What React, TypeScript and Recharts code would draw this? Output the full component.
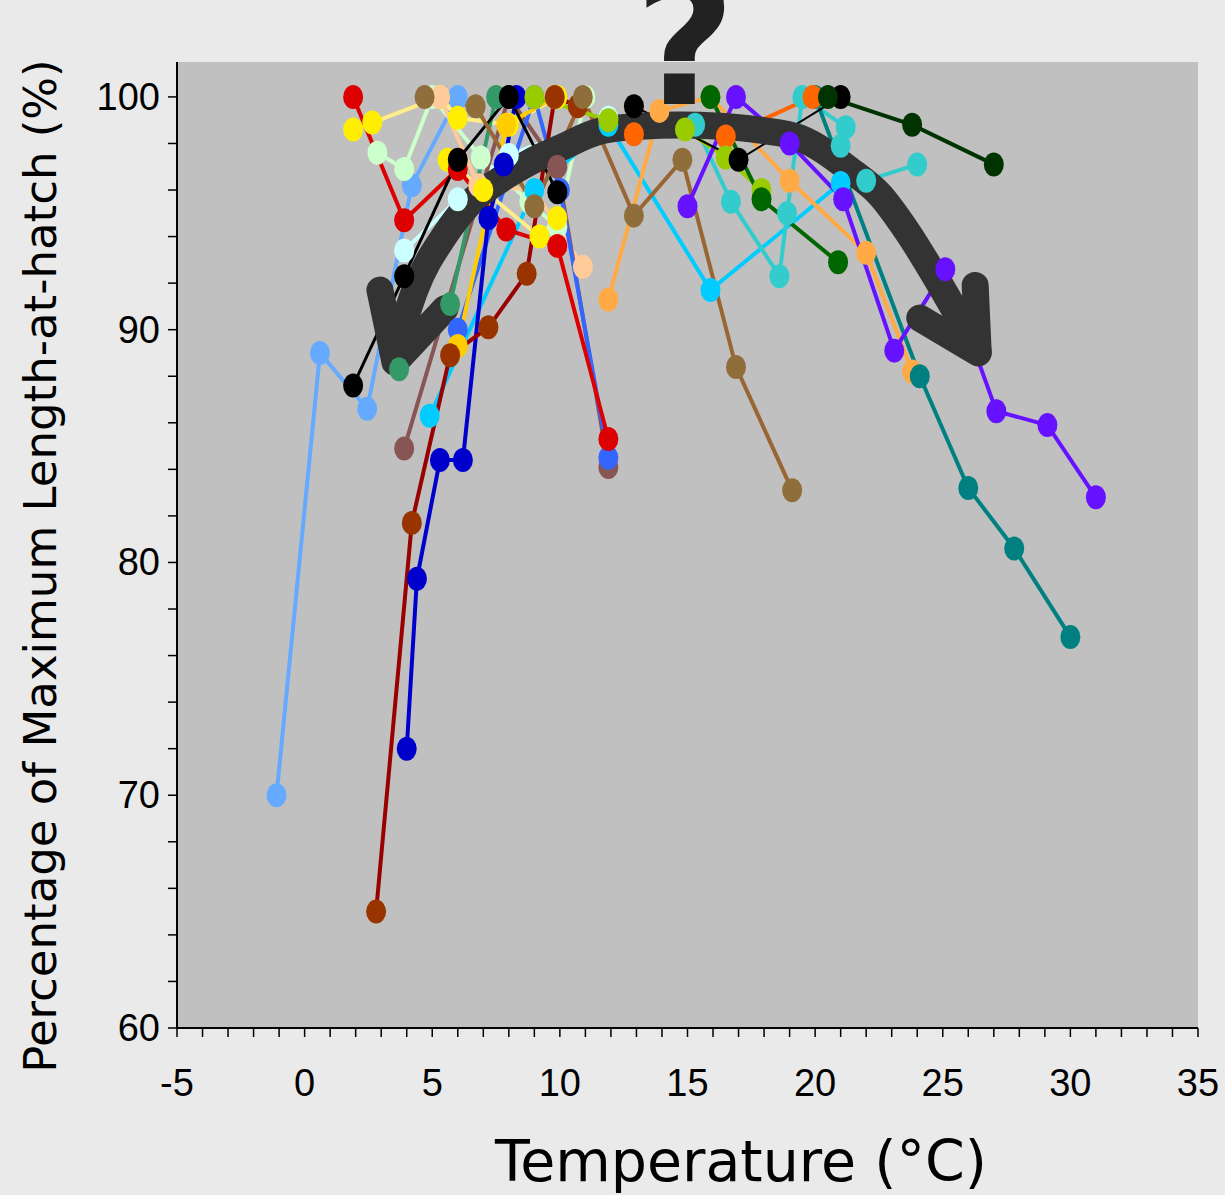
import React from "react"
import { LineChart, Line, XAxis, YAxis, ReferenceArea } from "recharts"

// temperature (°C) vs % of max length-at-hatch, one array per population
const lightBlue = [[-1.1, 70.0], [0.6, 89.0], [2.45, 86.6], [4.2, 96.2], [6.0, 100]]
const yellowA = [[1.9, 98.6], [2.65, 98.9], [5.3, 100], [6.0, 99.1], [8.0, 98.8], [9.9, 100]]
const yellowB = [[5.6, 97.3], [7.0, 96.0], [9.2, 94.0], [9.9, 94.8]]
const paleGreen = [[2.85, 97.6], [3.9, 96.9], [5.0, 100], [6.9, 97.4], [8.8, 95.5], [9.9, 94.4], [11.0, 100]]
const lightCyan = [[3.9, 93.4], [6.0, 95.6], [8.0, 97.5], [11.9, 99.1]]
const peach = [[5.3, 100], [6.8, 96.2], [9.0, 96.0], [10.9, 92.7]]
const mauve = [[3.9, 84.9], [8.0, 100], [9.9, 97.0], [11.9, 84.1]]
const seaGreen = [[3.7, 88.3], [5.7, 91.1], [7.5, 100]]
const skyBlue = [[4.9, 86.3], [9.0, 96.0], [11.9, 98.8], [15.9, 91.7], [21.0, 96.3]]
const royalBlue = [[6.0, 90.0], [9.0, 100], [10.0, 96.0], [11.9, 84.5]]
const gold = [[6.0, 89.3], [7.9, 98.8], [9.8, 100]]
const red = [[1.9, 100], [3.9, 94.7], [6.0, 96.9], [7.9, 94.3], [9.9, 93.6], [11.9, 85.3]]
const blue = [[4.0, 72.0], [4.4, 79.3], [5.3, 84.4], [6.2, 84.4], [7.2, 94.8], [7.8, 97.1], [8.3, 100]]
const darkRed = [[2.8, 65.0], [4.2, 81.7], [5.7, 88.9], [7.2, 90.1], [8.7, 92.4], [9.8, 100], [10.7, 99.6]]
const black = [[1.9, 87.6], [3.9, 92.3], [6.0, 97.3], [8.0, 100], [9.9, 95.9]]
const brown = [[4.7, 100], [6.7, 99.6], [9.0, 95.3], [10.9, 100], [12.9, 94.9], [14.8, 97.3], [16.9, 88.4], [19.1, 83.1]]
const sandy = [[11.9, 91.3], [13.9, 99.4], [15.9, 100], [19.0, 96.4], [22.0, 93.3], [23.8, 88.2]]
const turquoise = [[15.3, 98.8], [16.7, 95.5], [18.6, 92.3], [18.9, 95.0], [19.5, 100], [21.2, 98.7], [21.0, 97.9], [22.0, 96.4], [24.0, 97.1]]
const teal = [[20.0, 100], [24.1, 88.0], [26.0, 83.2], [27.8, 80.6], [30.0, 76.8]]
const orange = [[12.9, 98.4], [16.5, 98.3], [19.9, 100]]
const yellowGreen = [[9.0, 100], [11.9, 99.0], [14.9, 98.6], [16.5, 97.4], [17.9, 96.0]]
const darkGreen = [[15.9, 100], [17.9, 95.6], [20.9, 92.9]]
const purple = [[15.0, 95.3], [16.9, 100], [19.0, 98.0], [21.1, 95.6], [23.1, 89.1], [25.1, 92.6], [27.1, 86.5], [29.1, 85.9], [31.0, 82.8]]
const blackThin = [[12.9, 99.6], [17.0, 97.3], [21.0, 100]]
const darkerGreen = [[20.5, 100], [23.8, 98.8], [27.0, 97.1]]

// the big "trend" arrow drawn over the data
const arcPath = [[3.54, 89.0], [4.32, 91.7], [5.5, 94.07], [6.48, 95.44], [7.65, 96.43], [8.83, 97.2], [10.0, 97.8], [11.57, 98.53], [13.14, 98.74], [14.7, 98.79], [16.27, 98.74], [17.84, 98.57], [19.41, 98.23], [21.37, 96.86], [22.55, 95.78], [23.57, 94.28], [24.9, 91.92], [26.39, 89.04]]
const leftHead = [[2.95, 91.7], [3.54, 88.6], [5.5, 90.9]]
const rightHead = [[26.27, 91.9], [26.39, 89.0], [24.1, 90.5]]

const xTicks = [-5, -4, -3, -2, -1, 0, 1, 2, 3, 4, 5, 6, 7, 8, 9, 10, 11, 12, 13, 14, 15, 16, 17, 18, 19, 20, 21, 22, 23, 24, 25, 26, 27, 28, 29, 30, 31, 32, 33, 34, 35]
const yTicks = [60, 62, 64, 66, 68, 70, 72, 74, 76, 78, 80, 82, 84, 86, 88, 90, 92, 94, 96, 98, 100]

const toPts = (arr: number[][]) => arr.map(([t, p]) => ({ t, p }))

const series = [
  { name: "lightBlue", data: lightBlue, stroke: "#66AAFF", fill: "#66AAFF", w: 4 },
  { name: "yellowA", data: yellowA, stroke: "#FFEE88", fill: "#FFEE00", w: 4 },
  { name: "paleGreen", data: paleGreen, stroke: "#CCFFCC", fill: "#CCFFCC", w: 4 },
  { name: "lightCyan", data: lightCyan, stroke: "#CCFFFF", fill: "#CCFFFF", w: 4 },
  { name: "peach", data: peach, stroke: "#FFCC99", fill: "#FFCC99", w: 4 },
  { name: "mauve", data: mauve, stroke: "#885555", fill: "#885555", w: 4 },
  { name: "seaGreen", data: seaGreen, stroke: "#339966", fill: "#339966", w: 4 },
  { name: "skyBlue", data: skyBlue, stroke: "#00CCFF", fill: "#00CCFF", w: 4 },
  { name: "royalBlue", data: royalBlue, stroke: "#3366FF", fill: "#3366FF", w: 4 },
  { name: "gold", data: gold, stroke: "#FFCC00", fill: "#FFCC00", w: 4 },
  { name: "yellowB", data: yellowB, stroke: "#FFEE88", fill: "#FFEE00", w: 4 },
  { name: "red", data: red, stroke: "#DD0000", fill: "#DD0000", w: 4 },
  { name: "blue", data: blue, stroke: "#0000CC", fill: "#0000CC", w: 4 },
  { name: "darkRed", data: darkRed, stroke: "#990000", fill: "#993300", w: 4 },
  { name: "black", data: black, stroke: "#000000", fill: "#000000", w: 3 },
  { name: "brown", data: brown, stroke: "#996633", fill: "#8F6E3C", w: 4 },
  { name: "sandy", data: sandy, stroke: "#FFAA44", fill: "#FFAA44", w: 4 },
  { name: "turquoise", data: turquoise, stroke: "#33CCCC", fill: "#33CCCC", w: 4 },
  { name: "teal", data: teal, stroke: "#008080", fill: "#008080", w: 4 },
  { name: "orange", data: orange, stroke: "#FF6600", fill: "#FF6600", w: 4 },
  { name: "yellowGreen", data: yellowGreen, stroke: "#99CC00", fill: "#99CC00", w: 4 },
  { name: "darkGreen", data: darkGreen, stroke: "#006600", fill: "#006600", w: 4 },
  { name: "purple", data: purple, stroke: "#6611FF", fill: "#6611FF", w: 4 },
  { name: "blackThin", data: blackThin, stroke: "#000000", fill: "#000000", w: 2 },
  { name: "darkerGreen", data: darkerGreen, stroke: "#003300", fill: "#003300", w: 4 },
]

const tickFont = "'Liberation Sans', Arial, sans-serif"
const titleFont = "'DejaVu Sans', Verdana, sans-serif"

const YTick = ({ x, y, payload }: any) =>
  payload.value % 10 === 0 ? (
    <text x={x} y={y} textAnchor="end" dominantBaseline="central" fontSize={38} fontFamily={tickFont} fill="#000">
      {payload.value}
    </text>
  ) : (
    <g />
  )

const XTick = ({ x, y, payload }: any) =>
  payload.value % 5 === 0 ? (
    <text x={x} y={y + 46} textAnchor="middle" dominantBaseline="central" fontSize={38} fontFamily={tickFont} fill="#000">
      {payload.value}
    </text>
  ) : (
    <g />
  )

const makeDot = (name: string, fill: string) => (props: any) => (
  <ellipse key={`${name}-${props.index}`} cx={props.cx} cy={props.cy} rx={10} ry={12} fill={fill} />
)

const arrowProps = {
  dataKey: "p",
  stroke: "#333333",
  strokeWidth: 27,
  strokeLinecap: "round" as const,
  strokeLinejoin: "round" as const,
  dot: false,
  activeDot: false,
  isAnimationActive: false,
}

export default function App() {
  return (
    <div style={{ position: "absolute", left: 0, top: 0, width: 1225, height: 1195, background: "#EAEAEA", overflow: "hidden" }}>
      <LineChart width={1225} height={1195} margin={{ top: 62, right: 27, left: 0, bottom: 0 }}>
        <XAxis
          type="number"
          dataKey="t"
          domain={[-5, 35]}
          ticks={xTicks}
          interval={0}
          allowDataOverflow
          height={167}
          tickSize={9}
          tickMargin={0}
          tick={<XTick />}
          axisLine={{ stroke: "#000", strokeWidth: 2 }}
          tickLine={{ stroke: "#000", strokeWidth: 1.5 }}
        />
        <YAxis
          type="number"
          dataKey="p"
          domain={[60, 101.5]}
          ticks={yTicks}
          interval={0}
          allowDataOverflow
          width={177}
          tickSize={9}
          tickMargin={8}
          tick={<YTick />}
          axisLine={{ stroke: "#000", strokeWidth: 2 }}
          tickLine={{ stroke: "#000", strokeWidth: 1.5 }}
        />
        <ReferenceArea x1={-5} x2={35} y1={60} y2={101.5} fill="#C0C0C0" fillOpacity={1} stroke="none" ifOverflow="hidden" />
        {series.map((s) => (
          <Line
            key={s.name}
            data={toPts(s.data)}
            dataKey="p"
            type="linear"
            stroke={s.stroke}
            strokeWidth={s.w}
            dot={makeDot(s.name, s.fill)}
            activeDot={false}
            isAnimationActive={false}
            legendType="none"
          />
        ))}
        <Line data={toPts(arcPath)} type="monotone" {...arrowProps} />
        <Line data={toPts(leftHead)} type="linear" {...arrowProps} />
        <Line data={toPts(rightHead)} type="linear" {...arrowProps} />
      </LineChart>
      <svg width={1225} height={1195} style={{ position: "absolute", left: 0, top: 0, pointerEvents: "none" }}>
        <text x={685} y={104} textAnchor="middle" fontSize={174} fontWeight="bold" fontFamily={titleFont} fill="#222222">
          ?
        </text>
        <text x={741} y={1181} textAnchor="middle" fontSize={57} fontFamily={titleFont} fill="#000">
          Temperature (°C)
        </text>
        <text
          transform="translate(56, 566) rotate(-90)"
          textAnchor="middle"
          fontSize={45}
          fontFamily={titleFont}
          fill="#000"
        >
          Percentage of Maximum Length-at-hatch (%)
        </text>
      </svg>
    </div>
  )
}
